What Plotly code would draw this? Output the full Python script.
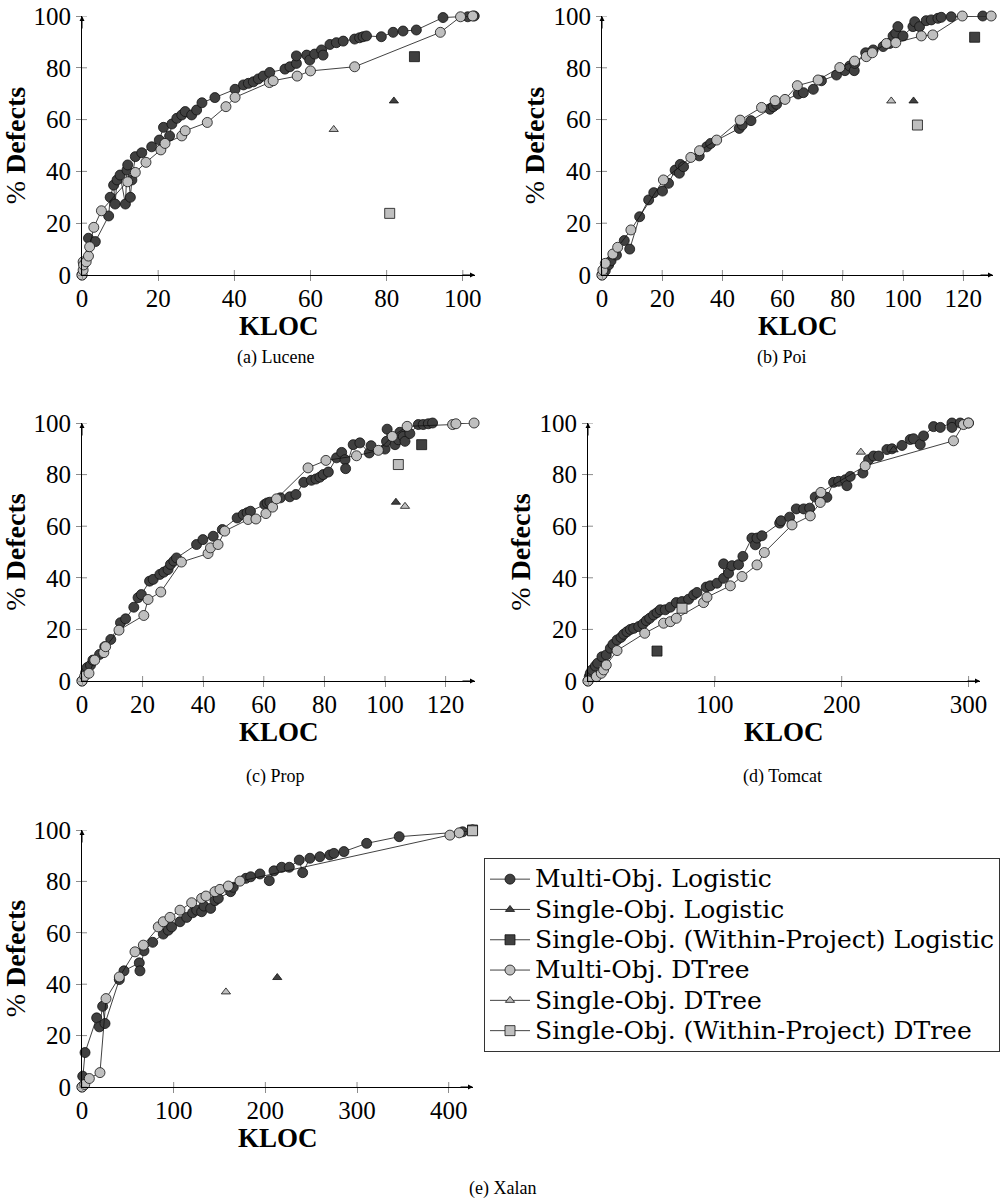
import plotly.graph_objects as go

W, H = 1005, 1203
DARK = '#404040'
LIGHT = '#bfbfbf'
FONT = 'Liberation Serif'
LEGFONT = 'DejaVu Serif'

series_names = ['Multi-Obj. Logistic', 'Single-Obj. Logistic', 'Single-Obj. (Within-Project) Logistic',
                'Multi-Obj. DTree', 'Single-Obj. DTree', 'Single-Obj. (Within-Project) DTree']
panel_captions = ['(a) Lucene', '(b) Poi', '(c) Prop', '(d) Tomcat', '(e) Xalan']
y_ticks = [0, 20, 40, 60, 80, 100]

# ---------------- Lucene ----------------
lucene_mo_log_x = [0, 1.7, 3.5, 7, 7.4, 8.3, 8.7, 9.2, 10, 11.4, 11.8, 12, 12.7, 13.1, 14, 15.7, 18.3, 20.3, 21.4, 23,
                   23.6, 24.9, 26.2, 27.1, 28.8, 30.1, 31.5, 34.9, 40.2, 42.4, 43.7, 45, 46.3, 47.6, 49.3, 53.3, 54.6,
                   56.3, 56.3, 59, 59.8, 61.1, 62.9, 63.3, 65.1, 66.8, 68.6, 71.6, 72.9, 73.8, 74.7, 78.6, 81.7, 84.3,
                   87.8, 94.8, 101.3, 103]
lucene_mo_log_y = [0, 14.2, 12.9, 22.8, 30, 34.7, 27.4, 36.7, 38.6, 27.4, 40.5, 42.5, 30, 36.7, 45.7, 47.2, 49.5, 52.1,
                   57, 53.7, 58.3, 60.5, 61.8, 63.1, 61.8, 63.7, 66.5, 68.5, 71.7, 73.4, 74, 74.6, 75.7, 76.8, 78.2,
                   79.5, 80.4, 81.7, 84.6, 84.9, 83, 85.3, 86.9, 84.9, 89, 89.7, 90.3, 91.1, 91.6, 92, 92.3, 92, 93.7,
                   94.2, 94.6, 99.4, 99.7, 100]
lucene_mo_dt_x = [0, 0.3, 0.3, 0.4, 1.1, 1.7, 2, 3.1, 5.1, 12, 14, 16.8, 20.7, 21.8, 26.2, 27.1, 32.9, 37.8, 40.2, 49.2,
                  50.2, 56.5, 60, 71.6, 94.1, 99.4, 102.6]
lucene_mo_dt_y = [0, 1.9, 5.1, 3.9, 5.1, 7.3, 10.9, 18.4, 24.8, 36, 39.6, 43.5, 48.3, 50.8, 53.7, 55.7, 58.9, 65, 68.6,
                  74.3, 75, 76.8, 78.8, 80.4, 93.7, 99.7, 100]
lucene_so_log = (81.9, 67.2)
lucene_so_dt = (66.1, 56.2)
lucene_wp_log = (87.3, 84.3)
lucene_wp_dt = (80.8, 23.8)

# ---------------- Poi ----------------
poi_mo_log_x = [0, 1.1, 2.2, 3, 4.8, 7.4, 9.2, 12.5, 15.5, 17.2, 20.1, 22.1, 24.3, 25.7, 26, 27.1, 32.3, 34.8, 36.1,
                45.6, 46.6, 49.5, 55.8, 56.9, 58, 65.2, 66.9, 70.2, 72.9, 77.9, 80.7, 82.3, 83.8, 84, 87.6, 90.1,
                93.4, 95.6, 96.7, 97.6, 98.3, 100, 103.3, 103.9, 105.5, 107.7, 109.4, 111.6, 112.7, 116, 126.5]
poi_mo_log_y = [0, 1.7, 3.9, 5.5, 7.7, 13.3, 10, 22.5, 29, 31.8, 32.4, 35.4, 40.5, 39.3, 42.7, 41.8, 46, 49.5, 50.8,
                56.6, 57.9, 59.6, 64, 65, 65.9, 69.9, 70.4, 71.7, 75, 77.2, 78.9, 80.7, 78.9, 81.7, 85.8, 86.9, 88.2,
                89.4, 92.3, 93.3, 95.9, 92.3, 95.9, 97.8, 95.9, 98.2, 98.5, 99.1, 99.5, 99.7, 100]
poi_mo_dt_x = [0, 0.3, 1.1, 3.6, 5.2, 9.6, 20.4, 29.5, 32.4, 38.1, 45.9, 53, 57.5, 60.8, 64.9, 71.8, 79, 83.9, 87.8,
               89.8, 94.5, 97.6, 106.1, 109.9, 119.7, 129.3]
poi_mo_dt_y = [0, 1.9, 4.5, 8.1, 10.7, 17.4, 36.7, 45.4, 48, 52.1, 59.8, 64.7, 67.3, 67.8, 73.1, 75.3, 80.1, 82.6,
               84.3, 85.8, 89.4, 89.7, 92.3, 92.7, 100, 100]
poi_so_log = (103.5, 67.2)
poi_so_dt = (96.1, 67.2)
poi_wp_log = (123.8, 91.8)
poi_wp_dt = (104.8, 57.9)

# ---------------- Prop ----------------
prop_mo_log_x = [0, 1.2, 1.7, 2.8, 3.6, 5.8, 7.5, 9.5, 12.7, 14.4, 17.1, 18.5, 19.6, 22.3, 23.5, 25.7, 27, 28.4, 29.2,
                 30.3, 31.2, 37.8, 39.9, 43.3, 46.3, 51.2, 53.2, 54.5, 55.6, 60.3, 61.1, 62, 65.5, 68.6, 70.6, 73.2,
                 75.7, 77.2, 78.5, 79.6, 81.3, 84, 85.7, 86.8, 87, 89.5, 91.7, 94.8, 95.4, 100, 100.5, 100.7, 103.3,
                 104.4, 104.9, 106, 106.6, 108.2, 111, 112.6, 114.3, 115.7]
prop_mo_log_y = [0, 3.2, 5.2, 6.1, 8.1, 10.3, 13.3, 16.1, 22.6, 24.1, 28.6, 32.3, 33.5, 38.7, 39.4, 41.3, 42.2, 43.2,
                 45.2, 46.5, 47.7, 52.9, 54.8, 56.1, 58.7, 63.2, 64.5, 65.2, 65.8, 68.4, 69, 69.3, 71, 71.4, 72.3, 77,
                 77.8, 78.3, 79, 80, 81, 86.5, 88.6, 85.8, 82.3, 91.6, 92.3, 88.4, 91.2, 89.9, 92.9, 97.6, 91.6, 93.5,
                 96.4, 94.8, 92.9, 95.9, 99.4, 99.4, 99.7, 100]
prop_mo_dt_x = [0, 0.9, 2.3, 4.2, 7.2, 7.8, 12.2, 20.4, 21.8, 26, 32.8, 41.6, 42.4, 44.9, 47.1, 54.8, 57.4, 60.7, 62.9,
                64.2, 74.6, 80.5, 90.6, 97.8, 102.4, 107.3, 122.3, 123.4, 129.4]
prop_mo_dt_y = [0, 1.9, 3, 8.1, 11, 13.3, 19.7, 25.4, 31.6, 34.5, 46.1, 49.4, 51.6, 52.9, 58.1, 62.6, 62.8, 64.9, 67.4,
                70.6, 82.6, 85.5, 87.3, 89.4, 94.8, 98.7, 99.4, 99.7, 100]
prop_so_log = (103.6, 69.3)
prop_so_dt = (106.6, 67.7)
prop_wp_log = (112.1, 91.6)
prop_wp_dt = (104.4, 83.9)

# ---------------- Tomcat ----------------
tomcat_mo_log_x = [0, 1, 1.8, 3.2, 5.8, 7.6, 11, 14.4, 17.6, 19.7, 22.9, 26, 28.1, 30.7, 33.4, 36, 40, 43.3, 46, 48.6,
                   51.7, 54.4, 57, 60.9, 64.9, 69.6, 74.1, 79.3, 83.3, 85.9, 93.2, 96.4, 101.7, 106.9, 106.9, 110.8,
                   113.5, 118.7, 122.1, 129.2, 131.9, 133.2, 137.1, 151.1, 152.1, 158.9, 164.2, 170, 174.7, 179.1,
                   183.1, 188.3, 193.6, 197.5, 202.8, 204.1, 206.7, 216.7, 221.2, 225.1, 229.1, 235.6, 239.6, 247.5,
                   254, 256.6, 261.9, 264.5, 272.4, 277.7, 286.9, 286.9, 293.4, 299.9]
tomcat_mo_log_y = [0, 1.7, 3, 4.3, 5.8, 6.9, 9.4, 10.1, 12.7, 14.2, 15.9, 16.9, 18.1, 19.1, 20, 20.4, 21.1, 22.1, 23.4,
                   24.3, 25.6, 26.5, 27.6, 27.6, 28.6, 30.4, 30.8, 31.7, 33.4, 34.3, 36.4, 36.9, 37.9, 39.8, 45.4, 41.8,
                   44.7, 45.1, 48.3, 55.4, 52.8, 55.4, 56.3, 61.2, 62.1, 63.5, 66.7, 66.7, 67, 71.3, 70.3, 71.2, 77,
                   77.4, 78, 75.7, 79.3, 80.6, 85.8, 87.2, 87.2, 89.7, 90, 91.3, 93.6, 93.9, 91.7, 95, 98.6, 98.3,
                   100, 98.3, 100, 100]
tomcat_mo_dt_x = [0, 6.6, 10.5, 12.3, 14.4, 22.9, 44.7, 59.6, 64.9, 69.6, 91.1, 93.8, 112.2, 121.4, 133.2, 139, 160.8,
                  175.2, 183.1, 183.6, 218.5, 288.1, 296, 299.9]
tomcat_mo_dt_y = [0, 1.7, 3, 4.3, 6.2, 11.8, 18.5, 22.4, 23, 24.3, 30.4, 32.5, 36.9, 40.5, 45, 49.8, 60.5, 64, 69.2,
                  73.1, 83.4, 93.1, 99.4, 100]
tomcat_so_log = (240.9, 89.6)
tomcat_so_dt = (215.1, 88.7)
tomcat_wp_log = (54.4, 11.6)
tomcat_wp_dt = (74.1, 28.2)

# ---------------- Xalan ----------------
xalan_mo_log_x = [0, 0.8, 3.3, 16, 18.9, 22.5, 25.1, 40.7, 45.8, 62.5, 63.2, 67.6, 77.1, 88.7, 94.1, 97.8, 106.9, 114.2,
                  120.7, 125.1, 130.5, 133, 140.3, 145, 148.7, 162.1, 165, 178.8, 184, 194.1, 204.3, 209.4, 217.8,
                  226.1, 237, 240.7, 248.6, 259.5, 270.4, 274.8, 285.7, 310.5, 346, 415.2, 426]
xalan_mo_log_y = [0, 4.2, 13.4, 26.9, 23.4, 31.4, 24.7, 41.8, 45.2, 48.3, 45.2, 53, 56.3, 59.5, 61, 62.3, 64.3, 66,
                  67.8, 68.8, 68.2, 70.4, 69.5, 72.5, 73.4, 76, 77.7, 81.2, 81.8, 82.9, 80.3, 84.1, 85.5, 85.5, 88.3,
                  83.4, 89, 89.6, 90.3, 90.9, 91.6, 94.8, 97.4, 99.3, 100]
xalan_mo_dt_x = [0, 3, 8, 19.6, 26.2, 40.7, 57.8, 66.9, 83.2, 88.7, 96, 106.9, 119.6, 130.5, 135.2, 145, 150.5, 159.6,
                 172.3, 401.3, 411.5, 426]
xalan_mo_dt_y = [0, 1, 3.3, 5.6, 34.4, 42.8, 52.6, 55.2, 62.3, 64.3, 66, 68.8, 71.7, 73.4, 74.3, 76, 76.9, 78.2, 80.1,
                 98, 98.9, 100]
xalan_so_log = (213, 42.6)
xalan_so_dt = (157, 37)
xalan_wp_log = (426, 100)
xalan_wp_dt = (426, 99.7)

projects = [
    (lucene_mo_log_x, lucene_mo_log_y, lucene_so_log, lucene_wp_log, lucene_mo_dt_x, lucene_mo_dt_y, lucene_so_dt, lucene_wp_dt),
    (poi_mo_log_x, poi_mo_log_y, poi_so_log, poi_wp_log, poi_mo_dt_x, poi_mo_dt_y, poi_so_dt, poi_wp_dt),
    (prop_mo_log_x, prop_mo_log_y, prop_so_log, prop_wp_log, prop_mo_dt_x, prop_mo_dt_y, prop_so_dt, prop_wp_dt),
    (tomcat_mo_log_x, tomcat_mo_log_y, tomcat_so_log, tomcat_wp_log, tomcat_mo_dt_x, tomcat_mo_dt_y, tomcat_so_dt, tomcat_wp_dt),
    (xalan_mo_log_x, xalan_mo_log_y, xalan_so_log, xalan_wp_log, xalan_mo_dt_x, xalan_mo_dt_y, xalan_so_dt, xalan_wp_dt),
]

x_ticks = [[0, 20, 40, 60, 80, 100], [0, 20, 40, 60, 80, 100, 120], [0, 20, 40, 60, 80, 100, 120],
           [0, 100, 200, 300], [0, 100, 200, 300, 400]]
x_max = [103.2, 129.9, 129.7, 309, 426.5]

# panel pixel boxes: (left, right, top, bottom)
boxes = [(82, 475, 16, 275), (602, 993, 16, 275), (82, 475, 423, 681), (588, 980, 423, 681), (82, 473, 830, 1087)]
caption_pos = [(275, 357), (782, 357), (275, 776), (782, 776), (502, 1188)]
xtitle_gap = 51  # px from x axis line to centre of the KLOC label

fig = go.Figure()
layout = dict(width=W, height=H, margin=dict(l=0, r=0, t=0, b=0), plot_bgcolor='white', paper_bgcolor='white',
              font=dict(family=FONT, size=24, color='black'))
annotations = []
shapes = []

def sorted_xy(xs, ys):
    pairs = sorted(zip(xs, ys), key=lambda p: p[0])
    return [p[0] for p in pairs], [p[1] for p in pairs]

styles = [('circle', DARK, 10), ('triangle-up', DARK, 8), ('square', DARK, 10),
          ('circle', LIGHT, 10), ('triangle-up', LIGHT, 8), ('square', LIGHT, 10)]

for i, proj in enumerate(projects):
    n = i + 1
    xa, ya = ('x' if n == 1 else f'x{n}'), ('y' if n == 1 else f'y{n}')
    mlx, mly, slog, wlog, mdx, mdy, sdt, wdt = proj
    mlx, mly = sorted_xy(mlx, mly)
    mdx, mdy = sorted_xy(mdx, mdy)
    data = [(mlx, mly), ([slog[0]], [slog[1]]), ([wlog[0]], [wlog[1]]),
            (mdx, mdy), ([sdt[0]], [sdt[1]]), ([wdt[0]], [wdt[1]])]
    for k, (xs, ys) in enumerate(data):
        sym, col, sz = styles[k]
        fig.add_trace(go.Scatter(
            x=xs, y=ys, mode='lines+markers',
            name=f'<span style="font-size:25px">{series_names[k]}</span>', xaxis=xa, yaxis=ya,
            showlegend=(i == 4), legendgroup=series_names[k], cliponaxis=False,
            line=dict(color='#111111', width=0.8),
            marker=dict(symbol=sym, color=col, size=sz, line=dict(color='#111111', width=0.8))))
    l, r, t, b = boxes[i]
    xd = [l / W, r / W]
    yd = [1 - b / H, 1 - t / H]
    axis_common = dict(showline=True, linecolor='black', linewidth=1, ticks='outside', ticklen=5,
                       tickcolor='#8c8c8c', tickwidth=1, showgrid=False, zeroline=False, automargin=False,
                       tickfont=dict(family=FONT, size=25, color='black'))
    layout['xaxis' if n == 1 else f'xaxis{n}'] = dict(
        domain=xd, range=[0, x_max[i]], anchor=ya, tickvals=x_ticks[i], ticklabelstandoff=-4, **axis_common)
    layout['yaxis' if n == 1 else f'yaxis{n}'] = dict(
        domain=yd, range=[0, 100], anchor=xa, tickvals=y_ticks,
        title=dict(text='% <b>Defects</b>', font=dict(family=FONT, size=28), standoff=0), **axis_common)
    # x axis title (placed explicitly below the tick labels)
    annotations.append(dict(x=(l + r) / 2 / W, y=1 - (b + xtitle_gap) / H, xref='paper', yref='paper',
                            text='<b>KLOC</b>', showarrow=False, font=dict(family=FONT, size=27),
                            xanchor='center', yanchor='middle'))
    # axis arrows
    annotations.append(dict(x=x_max[i], y=0, xref=xa, yref=ya, ax=-14, ay=0, showarrow=True, text='',
                            arrowhead=2, arrowsize=1, arrowwidth=1, arrowcolor='black'))
    annotations.append(dict(x=0, y=100, xref=xa, yref=ya, ax=0, ay=14, showarrow=True, text='',
                            arrowhead=2, arrowsize=1, arrowwidth=1, arrowcolor='black'))
    # inner half of ticks (ticks cross the axis line)
    for tv in x_ticks[i]:
        shapes.append(dict(type='line', xref=xa, yref=f'{ya} domain', x0=tv, x1=tv, y0=0, y1=5 / (b - t),
                           line=dict(color='#8c8c8c', width=1)))
    for tv in y_ticks:
        shapes.append(dict(type='line', xref=f'{xa} domain', yref=ya, x0=0, x1=5 / (r - l), y0=tv, y1=tv,
                           line=dict(color='#8c8c8c', width=1)))
    cx, cy = caption_pos[i]
    annotations.append(dict(x=cx / W, y=1 - cy / H, xref='paper', yref='paper', text=panel_captions[i],
                            showarrow=False, font=dict(family=FONT, size=18), xanchor='center', yanchor='middle'))

layout['annotations'] = annotations
layout['shapes'] = shapes
layout['legend'] = dict(x=484 / W, y=1 - 858 / H, xanchor='left', yanchor='top', bgcolor='white',
                        bordercolor='#333333', borderwidth=1, font=dict(family=LEGFONT, size=21),
                        tracegroupgap=0, itemwidth=40)
fig.update_layout(**layout)
fig.write_html('out.html')
